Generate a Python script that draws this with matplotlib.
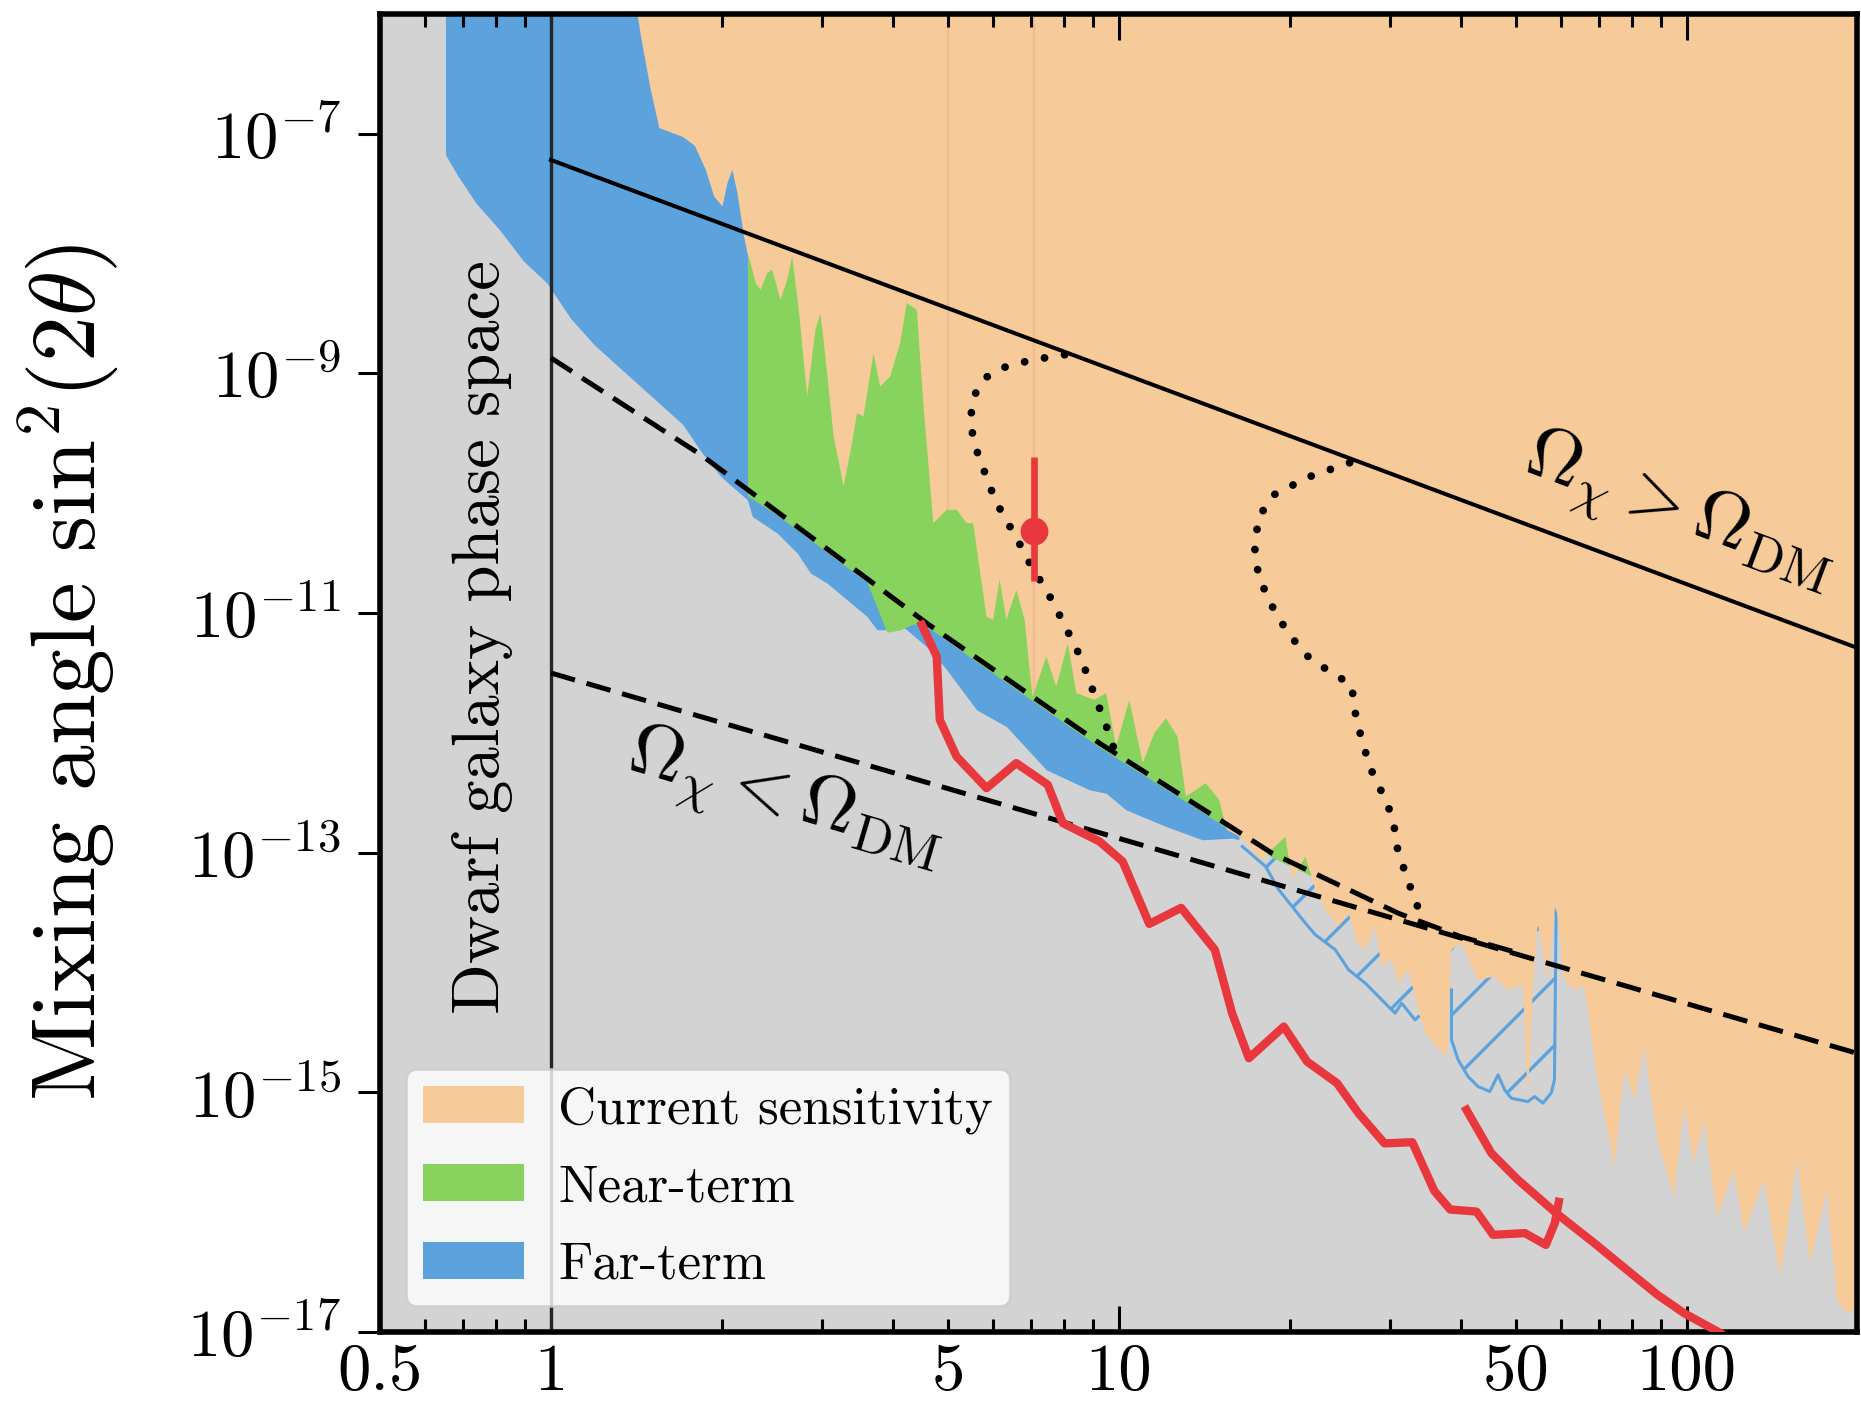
import numpy as np
import matplotlib
matplotlib.use("Agg")
import matplotlib.pyplot as plt
from matplotlib.patches import Patch
from matplotlib.ticker import NullLocator

plt.rcParams.update({
    "font.family": "serif",
    "font.serif": ["cmr10"],
    "mathtext.fontset": "cm",
    "axes.formatter.use_mathtext": True,
    "axes.unicode_minus": False,
    "hatch.linewidth": 1.2,
    "hatch.color": "#5ca2dd",
})

# sterile neutrino mass [keV] vs log10 sin^2(2theta)
current_edge = [(1.41, -5.9), (1.444, -6.213), (1.497, -6.619), (1.552, -6.952), (1.708, -7.026),
                (1.792, -7.099), (1.874, -7.300), (1.938, -7.523), (2.005, -7.606), (2.046, -7.411),
                (2.087, -7.300), (2.130, -7.494), (2.188, -7.856), (2.218, -7.995), (2.247, -8.078),
                (2.294, -8.245), (2.340, -8.301), (2.404, -8.162), (2.453, -8.134), (2.537, -8.385),
                (2.607, -8.218), (2.660, -8.023), (2.732, -8.468), (2.827, -9.192), (2.923, -8.635),
                (2.983, -8.496), (3.043, -8.858), (3.147, -9.526), (3.277, -9.943), (3.390, -9.581),
                (3.459, -9.331), (3.552, -9.359), (3.699, -8.830), (3.801, -9.109), (3.957, -9.025),
                (4.121, -8.746), (4.234, -8.412), (4.409, -8.468), (4.527, -9.247), (4.714, -10.249),
                (4.977, -10.138), (5.183, -10.138), (5.395, -10.249), (5.541, -10.249), (5.692, -10.639),
                (5.848, -11.028), (6.006, -11.056), (6.170, -10.722), (6.340, -11.056), (6.602, -10.806),
                (6.827, -11.056), (6.967, -11.473), (7.054, -11.697), (7.455, -11.362), (7.762, -11.613),
                (8.134, -11.250), (8.418, -11.668), (9.06, -11.724), (9.500, -11.668), (9.892, -12.114),
                (10.44, -11.724), (11.02, -12.252), (11.55, -12.002), (12.11, -11.877), (12.69, -12.030),
                (13.13, -12.531), (14.23, -12.419), (15.02, -12.558), (15.51, -12.809), (16.49, -12.876),
                (17.80, -13.060), (19.66, -12.865), (20.20, -13.226), (21.32, -13.032), (22.20, -13.310),
                (23.12, -13.477), (24.39, -13.616), (25.40, -13.504), (26.27, -13.755), (27.17, -13.811),
                (28.29, -13.616), (29.05, -13.950), (30.25, -13.894), (31.08, -14.089), (32.36, -13.978),
                (33.71, -14.311), (34.63, -14.506), (37.53, -14.701), (37.98, -14.646), (38.45, -13.811),
                (40.13, -13.755), (42.95, -14.061), (45.94, -14.034), (48.46, -14.144), (51.48, -14.103),
                (52.54, -15.063), (53.61, -14.144), (54.71, -13.588), (56.98, -14.061), (58.85, -13.394),
                (60.95, -14.061), (63.47, -14.144), (66.08, -14.117), (69.74, -14.896), (74.62, -15.620),
                (77.70, -14.812), (80.91, -15.063), (84.23, -14.618), (88.88, -15.397), (95.08, -15.870),
                (99.0, -15.118), (103.1, -15.591), (107.3, -15.230), (113.2, -16.037), (121.2, -15.647),
                (126.2, -16.175), (136.8, -15.730), (146.3, -16.538), (156.5, -15.563), (165.1, -16.426),
                (176.6, -15.814), (183.9, -16.732), (191.5, -16.843), (197.8, -16.815), (200.0, -16.8)]

near_edge = [(2.218, -10.02), (2.5, -10.18), (3.0, -10.46), (3.6, -10.74), (3.905, -11.16),
             (4.12, -11.14), (4.35, -11.09), (4.59, -11.11), (6.0, -11.50), (9.25, -12.12),
             (13.0, -12.56), (18.64, -13.04), (22.2, -13.21)]

far_edge = [(0.652, -7.174), (0.687, -7.358), (0.738, -7.579), (0.812, -7.801), (0.894, -8.060),
            (0.984, -8.245), (1.083, -8.540), (1.192, -8.761), (1.344, -8.983), (1.515, -9.205),
            (1.708, -9.427), (1.837, -9.651), (1.991, -9.860), (2.218, -10.054), (2.263, -10.194),
            (2.503, -10.332), (2.715, -10.499), (2.864, -10.666), (3.064, -10.750), (3.322, -10.889),
            (3.602, -11.028), (3.751, -11.139), (3.905, -11.139), (4.067, -11.084), (4.234, -11.139),
            (4.652, -11.306), (4.977, -11.473), (5.618, -11.807), (6.340, -11.947), (7.455, -12.308),
            (8.879, -12.475), (9.500, -12.503), (10.30, -12.642), (12.11, -12.781), (14.04, -12.892),
            (15.85, -12.878), (16.28, -12.892)]

far_hatch_a = [(16.51, -12.948), (18.14, -13.115), (19.14, -13.310), (21.32, -13.588), (22.20, -13.685),
               (24.07, -13.810), (25.40, -13.977), (27.17, -14.088), (29.85, -14.284), (30.67, -14.339),
               (31.50, -14.256), (33.25, -14.395), (33.71, -14.368)]
far_hatch_b = [(38.55, -14.145), (38.56, -14.562), (39.60, -14.729), (41.23, -14.868), (42.95, -14.952),
               (45.03, -14.993), (46.56, -14.854), (47.83, -14.979), (49.13, -15.049), (52.56, -15.077),
               (53.99, -15.035), (55.84, -15.090), (57.75, -15.007), (58.53, -14.896), (58.92, -13.504)]

overabundance = [(1.0, -7.218), (200.0, -11.291)]
underabundance = [(1.0, -11.5), (200.0, -14.675)]
dashed_upper = [(1.0, -8.87), (1.837, -9.679), (4.59, -11.084), (9.25, -12.086), (18.64, -13.005),
                (31.1, -13.506), (40.0, -13.70), (50.0, -13.83)]

dotted_a = [(8.03, -8.844), (7.36, -8.872), (6.74, -8.908), (6.22, -8.955), (5.81, -9.039),
            (5.56, -9.187), (5.49, -9.354), (5.53, -9.521), (5.66, -9.688), (5.83, -9.846),
            (6.01, -10.014), (6.23, -10.166), (6.50, -10.314), (6.77, -10.467), (7.02, -10.613),
            (7.36, -10.765), (7.68, -10.918), (7.98, -11.077), (8.29, -11.231), (8.60, -11.386),
            (8.84, -11.545), (9.10, -11.704), (9.38, -11.870), (9.66, -12.032), (9.86, -12.169)]
dotted_b = [(25.5, -9.745), (21.6, -9.864), (18.75, -10.013), (17.62, -10.202), (17.36, -10.459),
            (17.62, -10.687), (18.48, -10.915), (19.67, -11.133), (21.24, -11.341), (23.38, -11.480),
            (25.73, -11.600), (26.0, -11.80), (26.87, -12.084), (27.92, -12.322), (29.43, -12.550),
            (30.43, -12.718), (30.9, -12.95), (32.08, -13.194), (33.98, -13.511)]

red_a = [(4.50, -11.098), (4.78, -11.362), (4.84, -11.891), (5.18, -12.197), (5.85, -12.461),
         (6.60, -12.252), (7.50, -12.433), (7.97, -12.753), (9.25, -12.906), (10.16, -13.073),
         (11.32, -13.594), (12.88, -13.460), (14.77, -13.811), (15.83, -14.337), (16.95, -14.715),
         (19.53, -14.451), (21.46, -14.743), (24.23, -14.923), (26.44, -15.174), (29.38, -15.426),
         (32.89, -15.416), (35.95, -15.822), (38.35, -15.978), (42.66, -15.995), (45.63, -16.189),
         (51.91, -16.175), (56.53, -16.273), (58.61, -16.092), (59.57, -15.914)]
red_b = [(40.96, -15.146), (45.32, -15.508), (50.47, -15.730), (58.94, -16.008), (68.82, -16.259),
         (79.8, -16.509), (88.9, -16.690), (99.0, -16.843), (114.8, -17.010), (130.0, -17.2)]

line_mass = 7.1
line_mix, line_mix_lo, line_mix_hi = 4.8e-11, 1.84e-11, 2.0e-10
faint_masses = [5.0, 7.1]

c_current = "#f7ca99"
c_near = "#88d35e"
c_far = "#5ca2dd"
c_red = "#e8383d"


def split(pairs):
    m, lg = np.array(pairs).T
    return m, 10.0 ** lg


def loglog_interp(xq, pairs):
    m, lg = np.array(pairs).T
    return 10 ** np.interp(np.log10(xq), np.log10(m), lg)


fig = plt.figure(figsize=(9.305, 7.02), dpi=200)
ax = fig.add_axes([0.2042, 0.0513, 0.7939, 0.9387])
ax.set_facecolor("#d3d3d3")
ax.set_xscale("log")
ax.set_yscale("log")

top = 1e-5

# hatched far-term pieces (under the filled regions)
for pairs in (far_hatch_a, far_hatch_b):
    m, y = split(pairs)
    upper = loglog_interp(m, underabundance) * 10
    ax.fill_between(m, y, upper, facecolor="none", edgecolor=c_far, hatch="/", linewidth=0, zorder=1)
    ax.plot(m, y, color=c_far, lw=1.1, zorder=1.05)

m, y = split(far_edge)
ax.fill_between(m, y, top, color=c_far, lw=0, zorder=1.1)
m, y = split(near_edge)
ax.fill_between(m, y, top, color=c_near, lw=0, zorder=1.2)
m, y = split(current_edge)
ax.fill_between(m, y, top, color=c_current, lw=0, zorder=1.3)

for xv in faint_masses:
    ax.vlines(xv, loglog_interp(xv, current_edge), top, color="#e49a86", lw=0.8, alpha=0.3, zorder=1.4)

ax.axvline(1.0, color="0.15", lw=1.2, zorder=2)

m, y = split(overabundance)
ax.plot(m, y, color="k", lw=1.45, zorder=2.5)
m, y = split(underabundance)
ax.plot(m, y, color="k", lw=1.8, dashes=(5, 2.4), zorder=2.5)
m, y = split(dashed_upper)
ax.plot(m, y, color="k", lw=1.8, dashes=(5, 2.4), zorder=2.5)

for pairs in (dotted_a, dotted_b):
    m, y = split(pairs)
    ax.plot(m, y, color="k", lw=2.8, linestyle=(0, (0.01, 2.6)), dash_capstyle="round", zorder=2.6)

for pairs in (red_a, red_b):
    m, y = split(pairs)
    ax.plot(m, y, color=c_red, lw=3.0, zorder=3)

ax.errorbar([line_mass], [line_mix],
            yerr=[[line_mix - line_mix_lo], [line_mix_hi - line_mix]],
            fmt="o", color=c_red, ms=9, elinewidth=2.4, capsize=0, zorder=4)

ax.text(0.757, 10 ** -11.2, "Dwarf galaxy phase space", rotation=90,
        ha="center", va="center", fontsize=24, zorder=4)
ax.text(96.7, 10 ** -10.17, r"$\Omega_\chi > \Omega_{\rm DM}$", rotation=-20.5,
        ha="center", va="center", fontsize=27, zorder=4)
ax.text(2.573, 10 ** -12.57, r"$\Omega_\chi < \Omega_{\rm DM}$", rotation=-16.5,
        ha="center", va="center", fontsize=27, zorder=4)

ax.set_xlim(0.5, 200)
ax.set_ylim(1e-17, 1e-6)

ax.set_xticks([1, 10, 100], ["1", "10", "100"])
minor_pos = [0.5, 0.6, 0.7, 0.8, 0.9] + list(range(2, 10)) + list(range(20, 100, 10)) + [200]
minor_lab = {0.5: "0.5", 5: "5", 50: "50"}
ax.set_xticks(minor_pos, [minor_lab.get(p, "") for p in minor_pos], minor=True)
ax.tick_params(axis="x", which="both", direction="in", top=True, labelsize=24, pad=4, width=1.1)
ax.tick_params(axis="x", which="major", length=9.5)
ax.tick_params(axis="x", which="minor", length=4.8)

ax.set_yticks([1e-17, 1e-15, 1e-13, 1e-11, 1e-9, 1e-7])
ax.yaxis.set_minor_locator(NullLocator())
ax.tick_params(axis="y", which="major", direction="out", length=8, width=1.1, labelsize=24, pad=6)

for s in ax.spines.values():
    s.set_linewidth(2.0)

ax.set_ylabel(r"Mixing angle $\mathrm{sin}^2(2\theta)$", fontsize=33)
ax.yaxis.set_label_coords(-0.175, 0.5)

handles = [Patch(facecolor=c_current, label="Current sensitivity"),
           Patch(facecolor=c_near, label="Near-term"),
           Patch(facecolor=c_far, label="Far-term")]
leg = ax.legend(handles=handles, loc="lower left", fontsize=19, handlelength=1.9,
                handleheight=0.7, labelspacing=0.58, handletextpad=0.65,
                borderpad=0.32, borderaxespad=0.5, framealpha=0.8)
leg.set_zorder(6)

fig.savefig("out.png", dpi=200)
